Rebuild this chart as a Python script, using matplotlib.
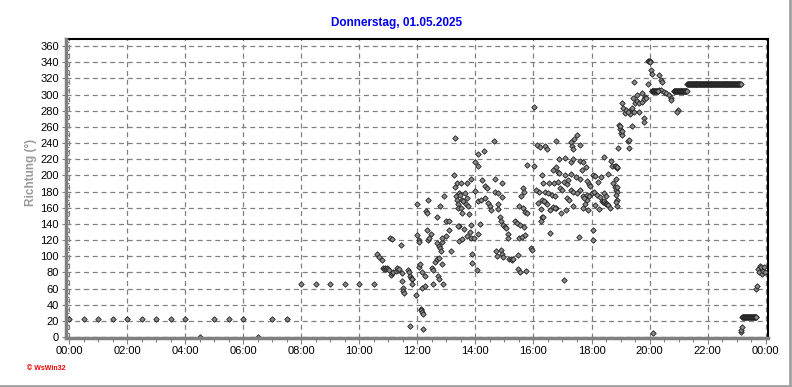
import numpy as np
import matplotlib
matplotlib.use("Agg")
import matplotlib.pyplot as plt
from matplotlib.ticker import MultipleLocator, FixedLocator
from matplotlib.lines import Line2D

plt.rcParams['font.family'] = ['Liberation Sans', 'DejaVu Sans']

title = "Donnerstag, 01.05.2025"
ylabel = "Richtung (°)"
credit = "© WsWin32"
xtick_labels = ["00:00", "02:00", "04:00", "06:00", "08:00", "10:00", "12:00",
                "14:00", "16:00", "18:00", "20:00", "22:00", "00:00"]

# --- data: wind direction (degrees) ---
night_t = ["00:00", "00:30", "01:00", "01:30", "02:00", "02:30", "03:00", "03:30", "04:00",
           "04:30", "05:00", "05:30", "06:00", "06:30", "07:00", "07:30",
           "08:00", "08:30", "09:00", "09:30", "10:00", "10:30"]
night_v = [22, 22, 22, 22, 22, 22, 22, 22, 22, 0, 22, 22, 22, 0, 22, 22,
           66, 66, 66, 66, 66, 66]

morning_t = ["10:37", "10:40", "10:46", "10:49", "10:51", "10:53", "10:55", "10:57", "10:59",
             "11:01", "11:04", "11:07", "11:06", "11:08", "11:10", "11:16", "11:18", "11:20",
             "11:22", "11:26", "11:28", "11:29", "11:30", "11:31", "11:33", "11:40", "11:42",
             "11:44", "11:46", "11:48", "11:50", "11:48", "11:45", "11:57"]
morning_v = [103, 99, 95, 85, 84, 85, 84, 85, 84, 83, 122, 121, 77, 79, 81, 82, 85, 83,
             84, 114, 69, 79, 61, 57, 54, 83, 80, 76, 73, 72, 72, 66, 14, 52]

noon_t = ["12:00", "12:00", "12:04", "12:04", "12:04", "12:05", "12:07", "12:08", "12:09",
          "12:11", "12:09", "12:15", "12:10", "12:15", "12:12", "12:18", "12:20", "12:22",
          "12:20", "12:28", "12:22", "12:24", "12:30", "12:32", "12:33", "12:36", "12:40",
          "12:45", "12:41", "12:40", "12:44", "12:47", "12:50", "12:52", "12:48", "12:43",
          "12:45", "12:50", "12:47", "12:54", "12:55", "13:00", "12:59", "13:05", "13:05",
          "13:10", "13:16", "13:18", "13:23", "13:20", "13:22", "13:24", "13:26", "13:25",
          "13:27", "13:27", "13:17", "13:24"]
noon_v = [126, 165, 120, 118, 87, 90, 35, 33, 31, 29, 61, 63, 80, 75, 10, 156, 153, 169,
          132, 128, 120, 122, 85, 83, 66, 93, 96, 98, 148, 116, 112, 110, 118, 122, 106, 76,
          72, 90, 162, 65, 175, 125, 143, 144, 132, 106, 200, 185, 191, 175, 170, 165, 178,
          160, 137, 119, 246, 137]

early_pm_t = ["13:28", "13:30", "13:32", "13:35", "13:38", "13:40", "13:42", "13:45", "13:30",
              "13:43", "13:50", "13:32", "13:46", "13:50", "13:36", "13:48", "14:05", "13:42",
              "13:50", "13:57", "13:33", "13:53", "13:53", "14:04", "14:00", "14:05", "14:12",
              "14:19", "14:14", "14:20", "14:23", "14:05", "14:00", "14:05", "14:18", "14:09",
              "14:26", "14:30", "14:33", "14:38", "14:40", "14:54", "14:40", "14:47", "14:54",
              "14:47", "14:46", "14:50", "14:53", "14:57", "14:42", "14:45", "14:52", "14:55",
              "14:58"]
early_pm_v = [176, 191, 170, 168, 178, 165, 172, 162, 160, 190, 196, 153, 152, 139, 134, 130,
              128, 125, 123, 122, 121, 103, 91, 83, 181, 168, 170, 172, 194, 187, 184, 226,
              217, 212, 230, 140, 166, 162, 157, 243, 195, 190, 179, 178, 173, 165, 158, 149,
              144, 139, 106, 100, 108, 103, 99]

mid_pm_t = ["15:01", "15:04", "15:08", "15:08", "15:10", "15:13", "15:16", "15:18", "15:28",
            "15:22", "15:27", "15:33", "15:40", "15:30", "15:36", "15:42", "15:28", "15:33",
            "15:45", "15:38", "15:40", "15:35", "15:30", "15:38", "15:42", "15:46", "15:47",
            "16:01", "15:54", "15:56", "16:08", "16:13", "16:01", "16:10", "16:15", "16:17",
            "16:12", "16:05", "16:24", "16:27", "16:17", "16:19", "16:17", "16:24", "16:29",
            "16:21", "16:19", "16:15"]
mid_pm_v = [136, 135, 128, 123, 96, 96, 95, 96, 101, 143, 141, 139, 136, 122, 124, 126, 84,
            80, 82, 184, 180, 174, 162, 159, 155, 153, 213, 211, 110, 108, 238, 235, 285, 166,
            158, 149, 179, 182, 236, 232, 200, 191, 170, 167, 165, 168, 148, 143]

late_pm_t = ["16:33", "16:42", "16:50", "16:24", "16:31", "16:38", "16:45", "16:35", "16:40",
             "16:47", "16:40", "16:50", "16:46", "16:53", "16:46", "16:53", "16:34", "16:45",
             "16:56", "16:54", "17:00", "17:04", "17:10", "17:05", "17:12", "17:05", "17:03",
             "17:10", "17:14", "17:08", "17:21", "17:18", "17:20", "17:22", "17:24", "17:29",
             "17:36", "17:18", "17:22", "17:36", "17:43", "17:48", "17:18", "17:28", "17:36",
             "17:40", "17:17", "17:22", "17:29", "17:36", "17:43", "17:50", "17:34", "17:42",
             "17:47", "17:52", "17:50", "17:54", "17:57", "17:45", "17:50", "17:55"]
late_pm_v = [190, 191, 192, 180, 178, 176, 175, 129, 161, 160, 207, 204, 210, 203, 243, 220,
             157, 160, 153, 184, 182, 192, 189, 201, 194, 221, 70, 172, 170, 157, 162, 241,
             236, 233, 245, 250, 237, 217, 220, 218, 216, 210, 202, 198, 196, 207, 182, 180,
             178, 182, 174, 170, 124, 160, 164, 157, 193, 189, 187, 172, 176, 175]

evening_t = ["18:00", "18:03", "18:04", "18:04", "18:08", "18:14", "18:20", "18:05", "18:12",
             "18:18", "18:26", "18:30", "18:07", "18:15", "18:25", "18:40", "18:43", "18:22",
             "18:24", "18:26", "18:28", "18:30", "18:32", "18:34", "18:38", "18:35", "18:45",
             "18:48", "18:50", "18:52", "18:48", "18:53", "18:52", "18:53", "18:56", "18:58",
             "18:55", "18:51", "18:52", "18:51", "18:51", "18:51", "18:52"]
evening_v = [178, 133, 120, 201, 199, 192, 198, 179, 176, 173, 178, 174, 163, 158, 223, 218,
             212, 168, 167, 168, 166, 165, 164, 163, 160, 202, 190, 185, 182, 179, 212, 209,
             169, 162, 262, 257, 234, 195, 185, 176, 167, 212, 210]

dusk_t = ["19:00", "19:02", "19:03", "19:16", "19:18", "19:18", "18:59", "19:23", "19:04",
          "19:06", "19:09", "19:12", "19:18", "19:24", "19:28", "19:20", "19:15", "19:38",
          "19:28", "19:25", "19:33", "19:45", "19:50", "19:30", "19:34", "19:38", "19:44",
          "19:48", "19:52", "19:48", "19:48", "19:56", "19:56", "19:58", "20:00", "20:01",
          "20:04", "20:06", "20:20", "20:24", "20:26", "20:20", "20:24", "20:30", "20:34",
          "20:40", "20:44", "20:45", "20:08", "20:58", "20:56"]
dusk_v = [252, 250, 255, 243, 244, 234, 261, 261, 290, 283, 277, 281, 280, 283, 278, 276,
          278, 278, 315, 296, 300, 302, 297, 290, 292, 289, 291, 294, 296, 271, 266, 313,
          341, 342, 341, 340, 330, 326, 324, 318, 316, 306, 305, 303, 302, 300, 296, 293,
          5, 281, 278]

night2_t = ["23:09", "23:10", "23:11", "23:41", "23:42", "23:44", "23:46", "23:48", "23:50",
            "23:52", "23:54", "23:56", "23:58"]
night2_v = [6, 9, 12, 60, 63, 84, 80, 88, 87, 78, 82, 86, 80]

# steady stretches (start, end, direction), logged once a minute
steady_runs = [("20:05", "20:18", 304), ("20:50", "21:17", 304),
               ("21:18", "23:08", 313), ("23:12", "23:40", 25)]


def to_hours(ts):
    return np.array([int(s[:2]) + int(s[3:]) / 60.0 for s in ts])


segments = [(night_t, night_v), (morning_t, morning_v), (noon_t, noon_v),
            (early_pm_t, early_pm_v), (mid_pm_t, mid_pm_v), (late_pm_t, late_pm_v),
            (evening_t, evening_v), (dusk_t, dusk_v), (night2_t, night2_v)]

xs = [to_hours(t) for t, v in segments]
ys = [np.array(v, dtype=float) for t, v in segments]
for a, b, d in steady_runs:
    h0, h1 = to_hours([a, b])
    tt = np.arange(h0, h1 + 1e-9, 1 / 60.0)
    xs.append(tt)
    ys.append(np.full(len(tt), d, dtype=float))
x = np.concatenate(xs)
y = np.concatenate(ys)

fig = plt.figure(figsize=(7.92, 3.87), dpi=100)
ax = fig.add_axes([66 / 792, 1 - 338 / 387, (768 - 66) / 792, (338 - 39) / 387])

ax.plot(x, y, linestyle='none', marker='D', markersize=2.8,
        markerfacecolor='#8c8c8c', markeredgecolor='#202020', markeredgewidth=0.6,
        zorder=3)

ax.set_xlim(-0.103, 24.08)
ax.set_ylim(-1.24, 368.7)

ax.xaxis.set_major_locator(FixedLocator(np.arange(0, 25, 2)))
ax.set_xticklabels(xtick_labels)
ax.xaxis.set_minor_locator(MultipleLocator(0.5))
ax.yaxis.set_major_locator(MultipleLocator(20))
ax.yaxis.set_minor_locator(MultipleLocator(5))

ax.tick_params(axis='x', which='major', direction='out', length=4, width=0.8,
               color='#808080', labelsize=8, pad=2)
ax.tick_params(axis='x', which='minor', direction='out', length=3, width=0.8, color='#808080')
ax.tick_params(axis='y', which='major', direction='out', length=3, width=0.8,
               color='#808080', labelsize=8, pad=2)
ax.tick_params(axis='y', which='minor', direction='in', length=2, width=0.8, color='#808080')

ax.grid(True, which='major', color='#808080', linestyle=(0, (4, 3)), linewidth=0.9, zorder=1)
ax.set_axisbelow(True)

for s in ['left', 'bottom']:
    ax.spines[s].set_color('#808080')
    ax.spines[s].set_linewidth(2.5)
    ax.spines[s].set_zorder(4)
for s in ['top', 'right']:
    ax.spines[s].set_color('black')
    ax.spines[s].set_linewidth(1.5)

fig.text(397 / 792, 1 - 23 / 387, title, color='#0000ee', fontweight='bold',
         fontsize=8.5, ha='center', va='center')
fig.text(31 / 792, 1 - 172 / 387, ylabel, color='#999999', fontweight='bold',
         fontsize=8.5, rotation=90, ha='center', va='center')
fig.text(27 / 792, 1 - 368 / 387, credit, color='#ee0000', fontweight='bold',
         fontsize=5, ha='left', va='center')

# window frame (right and bottom edges)
fig.add_artist(Line2D([789.5 / 792, 789.5 / 792], [1 - 386 / 387, 1], transform=fig.transFigure,
                      color='#a0a0a0', linewidth=2))
fig.add_artist(Line2D([0, 789.5 / 792], [1 - 386 / 387, 1 - 386 / 387], transform=fig.transFigure,
                      color='#a0a0a0', linewidth=2))

fig.savefig("out.png", dpi=100)
